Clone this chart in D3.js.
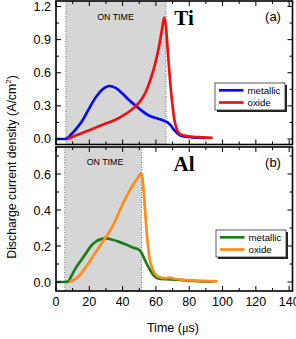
<!DOCTYPE html>
<html>
<head>
<meta charset="utf-8">
<script src="https://cdn.jsdelivr.net/npm/d3@7.9.0/dist/d3.min.js"></script>
<style>
  body { margin: 0; background: #fff; }
  svg { display: block; font-family: "Liberation Sans", Arial, sans-serif; }
</style>
</head>
<body>
<svg id="chart" width="296" height="339"></svg>
<script>
/* ---------- Data ---------- */
// Ti panel (a)
const tiMetallicT = [0, 5, 6.6, 9, 12, 16, 20, 24, 28, 32, 36, 40, 44, 48, 52, 56, 60, 64, 67, 69, 71, 73, 75, 78, 82, 86, 90];
const tiMetallicJ = [0, 0, 0.005, 0.04, 0.09, 0.17, 0.28, 0.38, 0.45, 0.48, 0.46, 0.41, 0.35, 0.30, 0.25, 0.21, 0.19, 0.17, 0.15, 0.12, 0.08, 0.05, 0.03, 0.02, 0.015, 0.012, 0.01];
const tiOxideT = [7, 10, 15, 20, 25, 30, 35, 40, 45, 48, 51, 54, 57, 60, 62, 63.5, 65, 66, 67, 68, 69, 70, 71, 72.5, 74, 77, 82, 88, 94];
const tiOxideJ = [0, 0.02, 0.05, 0.08, 0.11, 0.14, 0.17, 0.21, 0.26, 0.30, 0.35, 0.43, 0.55, 0.71, 0.85, 0.98, 1.10, 1.02, 0.82, 0.62, 0.44, 0.30, 0.18, 0.09, 0.05, 0.03, 0.02, 0.015, 0.01];

// Al panel (b)
const alMetallicT = [0, 5, 7.4, 9, 12, 15, 18, 21, 24, 27, 30, 34, 38, 42, 46, 50, 51.5, 53, 54.5, 56, 58, 60, 62, 66, 72, 80, 88, 94];
const alMetallicJ = [0, 0, 0.003, 0.03, 0.08, 0.12, 0.16, 0.20, 0.225, 0.238, 0.242, 0.235, 0.223, 0.208, 0.192, 0.178, 0.16, 0.13, 0.10, 0.075, 0.045, 0.025, 0.018, 0.016, 0.013, 0.008, 0.004, 0.002];
const alOxideT = [8, 10, 14, 18, 22, 26, 30, 34, 38, 42, 45, 48, 50, 51, 52, 53, 54, 55, 56, 58, 60, 63, 66, 68, 71, 76, 84, 92, 97];
const alOxideJ = [0, 0.008, 0.035, 0.085, 0.14, 0.195, 0.25, 0.31, 0.39, 0.47, 0.52, 0.565, 0.59, 0.605, 0.57, 0.46, 0.33, 0.22, 0.14, 0.07, 0.04, 0.025, 0.022, 0.024, 0.018, 0.012, 0.008, 0.005, 0.004];

const xTicks = [0, 20, 40, 60, 80, 100, 120, 140];
const tiYTicks = [0.0, 0.3, 0.6, 0.9, 1.2];
const alYTicks = [0.0, 0.2, 0.4, 0.6];
const seriesNames = ["metallic", "oxide"];

/* ---------- Layout ---------- */
const svg = d3.select("#chart");
const left = 56, right = 292.5;

const x = d3.scaleLinear().domain([0, 142]).range([left, right]);

const panels = [
  {
    top: 1, bottom: 144.5, domain: [-0.05, 1.25], ticks: tiYTicks, minorStep: 0.15,
    on: [6, 66], onLabel: [115.5, 19.5], element: "Ti", tag: "(a)",
    series: [
      { t: tiMetallicT, j: tiMetallicJ, color: "#0a0af0" },
      { t: tiOxideT, j: tiOxideJ, color: "#f01010" }
    ],
    legend: { x: 215, y: 83 }
  },
  {
    top: 147, bottom: 291, domain: [-0.05, 0.75], ticks: alYTicks, minorStep: 0.1,
    on: [5.3, 51.3], onLabel: [105, 165], element: "Al", tag: "(b)",
    series: [
      { t: alMetallicT, j: alMetallicJ, color: "#1a7d1a" },
      { t: alOxideT, j: alOxideJ, color: "#ff8c1a" }
    ],
    legend: { x: 216, y: 230 }
  }
];

const xMinor = d3.range(0, 142, 10);

panels.forEach((p, pi) => {
  const y = d3.scaleLinear().domain(p.domain).range([p.bottom, p.top]);
  const g = svg.append("g");

  // ON TIME shading
  g.append("rect")
    .attr("x", x(p.on[0])).attr("y", p.top)
    .attr("width", x(p.on[1]) - x(p.on[0]))
    .attr("height", p.bottom - p.top)
    .attr("fill", "#d6d6d6");
  p.on.forEach(v => {
    g.append("line")
      .attr("x1", x(v)).attr("x2", x(v))
      .attr("y1", p.top).attr("y2", p.bottom)
      .attr("stroke", "#555").attr("stroke-width", 0.8)
      .attr("stroke-dasharray", "1,1.5");
  });
  g.append("text")
    .attr("x", p.onLabel[0]).attr("y", p.onLabel[1])
    .attr("text-anchor", "middle")
    .attr("font-size", 8.8)
    .text("ON TIME");

  // curves
  const line = d3.line()
    .x(d => x(d[0])).y(d => y(d[1]))
    .curve(d3.curveMonotoneX);
  p.series.forEach(s => {
    g.append("path")
      .datum(s.t.map((t, i) => [t, s.j[i]]))
      .attr("d", line)
      .attr("fill", "none")
      .attr("stroke", s.color)
      .attr("stroke-width", 2.7)
      .attr("stroke-linejoin", "round");
  });

  // ticks (inward, all four sides)
  const yMinor = d3.range(0, p.domain[1], p.minorStep);
  const tickG = g.append("g").attr("stroke", "#000").attr("stroke-width", 1);
  xMinor.forEach(v => {
    const len = (v % 20 === 0) ? 5 : 3;
    tickG.append("line").attr("x1", x(v)).attr("x2", x(v)).attr("y1", p.bottom).attr("y2", p.bottom - len);
    tickG.append("line").attr("x1", x(v)).attr("x2", x(v)).attr("y1", p.top).attr("y2", p.top + len);
  });
  yMinor.forEach((v, i) => {
    const len = (i % 2 === 0) ? 5 : 3;
    tickG.append("line").attr("x1", left).attr("x2", left + len).attr("y1", y(v)).attr("y2", y(v));
    tickG.append("line").attr("x1", right).attr("x2", right - len).attr("y1", y(v)).attr("y2", y(v));
  });

  // frame
  g.append("rect")
    .attr("x", left).attr("y", p.top)
    .attr("width", right - left).attr("height", p.bottom - p.top)
    .attr("fill", "none").attr("stroke", "#000").attr("stroke-width", 1.6);

  // y tick labels
  g.selectAll(".ylab").data(p.ticks).enter().append("text")
    .attr("x", 51).attr("y", d => y(d) + 4.5)
    .attr("text-anchor", "end")
    .attr("font-size", 12.5)
    .text(d => d.toFixed(1));

  // element & panel tag
  g.append("text")
    .attr("x", 184).attr("y", p.top + 24)
    .attr("text-anchor", "middle")
    .attr("font-family", "Liberation Serif, Times New Roman, serif")
    .attr("font-weight", "bold").attr("font-size", 21)
    .text(p.element);
  g.append("text")
    .attr("x", 273).attr("y", p.top + 20)
    .attr("text-anchor", "middle")
    .attr("font-size", 13)
    .text(p.tag);

  // legend
  const lg = g.append("g").attr("transform", `translate(${p.legend.x},${p.legend.y})`);
  lg.append("rect").attr("x", 2).attr("y", 2).attr("width", 70).attr("height", 27).attr("fill", "#222");
  lg.append("rect").attr("width", 70).attr("height", 27).attr("fill", "#fff").attr("stroke", "#333").attr("stroke-width", 0.8);
  p.series.forEach((s, i) => {
    const ly = 7.3 + i * 12.2;
    lg.append("line").attr("x1", 4).attr("x2", 28.5).attr("y1", ly).attr("y2", ly)
      .attr("stroke", s.color).attr("stroke-width", 2.7);
    lg.append("text").attr("x", 32.5).attr("y", ly + 3.5)
      .attr("font-size", 9.7).text(seriesNames[i]);
  });

  // x tick labels only under bottom panel
  if (pi === panels.length - 1) {
    g.selectAll(".xlab").data(xTicks).enter().append("text")
      .attr("x", d => x(d)).attr("y", p.bottom + 15)
      .attr("text-anchor", "middle")
      .attr("font-size", 12.5)
      .text(d => d);
  }
});

// axis titles
svg.append("text")
  .attr("x", 173).attr("y", 332)
  .attr("text-anchor", "middle")
  .attr("font-size", 12.5)
  .html("Time (<tspan font-family='Liberation Serif, serif'>μ</tspan>s)");

svg.append("text")
  .attr("transform", "translate(16,167) rotate(-90)")
  .attr("text-anchor", "middle")
  .attr("font-size", 12.3)
  .html("Discharge current density (A/cm<tspan dy='-5' font-size='8'>2</tspan><tspan dy='5'>)</tspan>");
</script>
</body>
</html>
